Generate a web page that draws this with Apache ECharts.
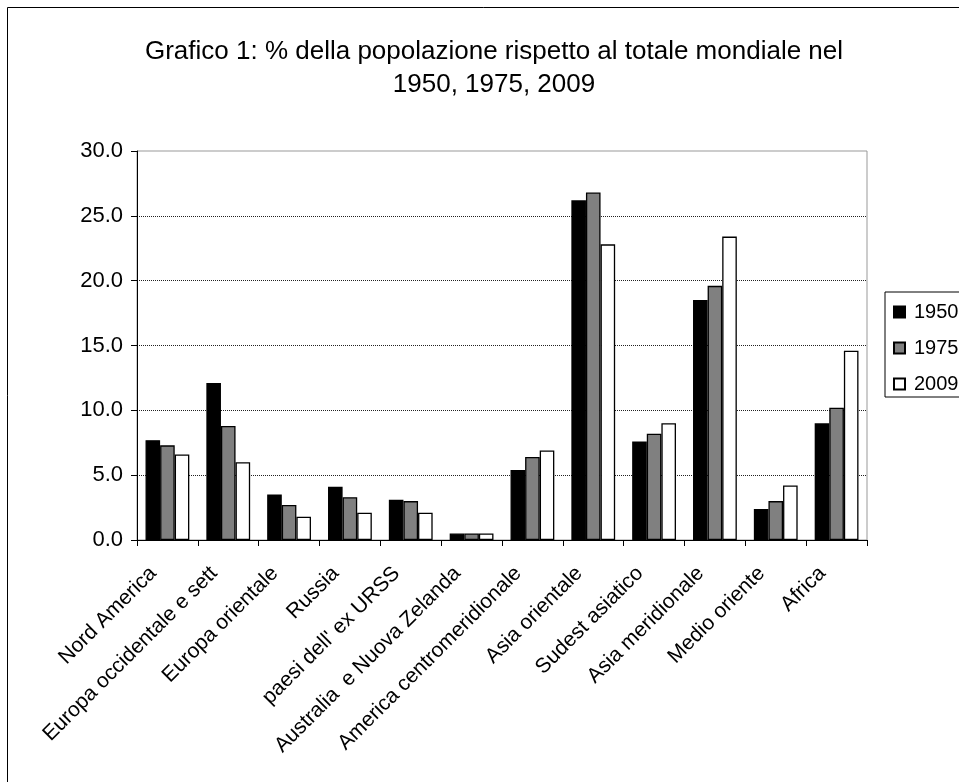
<!DOCTYPE html>
<html>
<head>
<meta charset="utf-8">
<script src="https://cdn.jsdelivr.net/npm/echarts@6/dist/echarts.min.js"></script>
<style>html,body{margin:0;padding:0;background:#fff}#c{width:959px;height:782px}</style>
</head>
<body>
<div id="c"></div>
<script>
const categories = ["Nord America","Europa occidentale e sett","Europa orientale","Russia","paesi dell' ex URSS","Australia  e Nuova Zelanda","America centromeridionale","Asia orientale","Sudest asiatico","Asia meridionale","Medio oriente","Africa"];
const seriesNames = ["1950","1975","2009"];
const v1950 = [7.7, 12.1, 3.5, 4.1, 3.1, 0.5, 5.4, 26.2, 7.6, 18.5, 2.4, 9.0];
const v1975 = [7.3, 8.8, 2.7, 3.3, 3.0, 0.5, 6.4, 26.8, 8.2, 19.6, 3.0, 10.2];
const v2009 = [6.6, 6.0, 1.8, 2.1, 2.1, 0.5, 6.9, 22.8, 9.0, 23.4, 4.2, 14.6];
const yTicks = {min: 0, max: 30, interval: 5};
const colors = ["#000000", "#808080", "#ffffff"];

const font = "'Liberation Sans', Arial, sans-serif";
const chart = echarts.init(document.getElementById('c'), null, {renderer: 'canvas'});
const values = [v1950, v1975, v2009];
chart.setOption({
  backgroundColor: '#fff',
  animation: false,
  graphic: [{
    type: 'rect', left: 7, top: 7, z: -10,
    shape: {width: 1000, height: 1000},
    style: {fill: '#fff', stroke: '#000', lineWidth: 1}
  }],
  title: {
    text: 'Grafico 1: % della popolazione rispetto al totale mondiale nel\n1950, 1975, 2009',
    left: 489, top: 30, textAlign: 'center',
    textStyle: {fontFamily: font, fontSize: 26, fontWeight: 'normal', color: '#000', lineHeight: 33}
  },
  legend: {
    orient: 'vertical', left: 885, top: 292,
    data: seriesNames,
    borderColor: '#000', borderWidth: 1,
    padding: [10, 12, 3, 8],
    itemGap: 16, itemWidth: 11, itemHeight: 11,
    icon: 'rect',
    textStyle: {fontFamily: font, fontSize: 20, color: '#000', padding: [0, 0, 0, 4]}
  },
  grid: {
    left: 137, right: 92, top: 151, bottom: 242,
    show: true, borderColor: '#999', borderWidth: 1, backgroundColor: 'transparent'
  },
  xAxis: {
    type: 'category', data: categories,
    axisLine: {lineStyle: {color: '#000', width: 1}},
    axisTick: {show: true, interval: 0, length: 6, lineStyle: {color: '#000'}},
    axisLabel: {interval: 0, rotate: 45, fontFamily: font, fontSize: 21, color: '#000',
      margin: 16, padding: [0, 20, 0, 0]}
  },
  yAxis: {
    type: 'value', min: yTicks.min, max: yTicks.max, interval: yTicks.interval,
    axisLine: {show: true, lineStyle: {color: '#000', width: 1}},
    axisTick: {show: true, length: 6, lineStyle: {color: '#000'}},
    axisLabel: {fontFamily: font, fontSize: 22, color: '#000', margin: 14,
      formatter: v => v.toFixed(1)},
    splitLine: {show: true, showMaxLine: false, lineStyle: {color: '#222', type: [1, 1], width: 1}}
  },
  series: seriesNames.map((n, i) => ({
    name: n, type: 'bar', data: values[i],
    barGap: '0%', barCategoryGap: '28%',
    itemStyle: {color: colors[i], borderColor: '#000', borderWidth: 1.3}
  }))
});
</script>
</body>
</html>
